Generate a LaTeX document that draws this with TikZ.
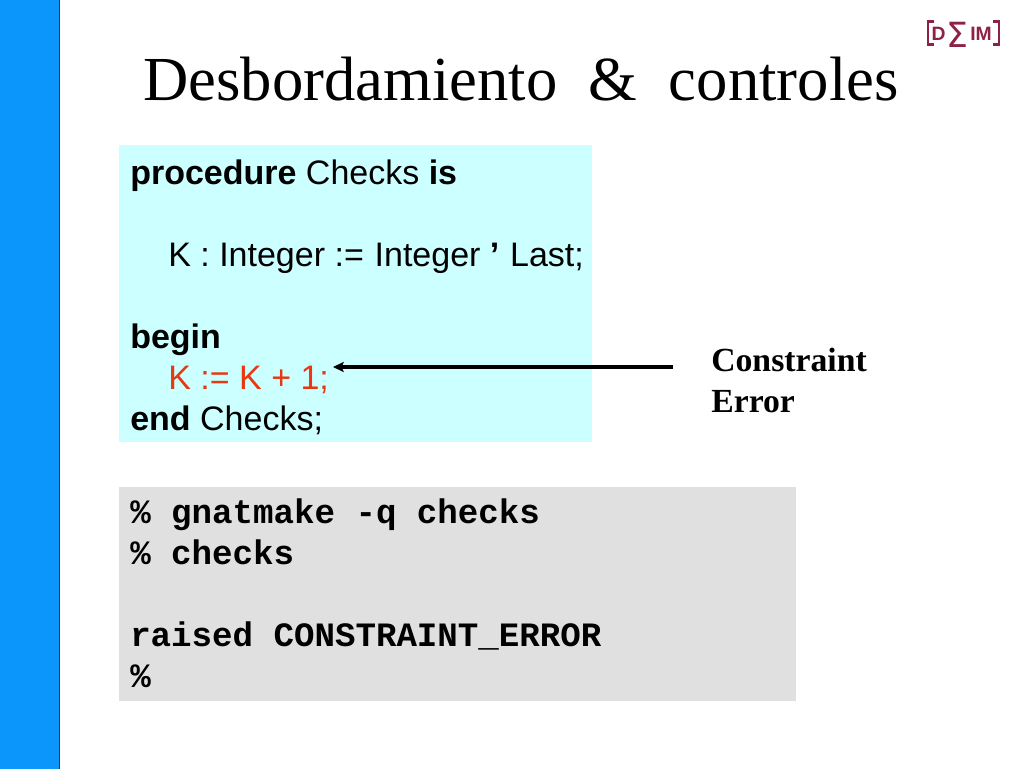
\documentclass[tikz,border=0pt]{standalone}
\usepackage{fontspec}
\usetikzlibrary{arrows.meta}
\setmainfont{Liberation Serif}
\setsansfont{Liberation Sans}
\setmonofont{Liberation Mono}
\newfontfamily\logosigma{DejaVu Sans}
\definecolor{sidebar}{HTML}{0A96FA}
\definecolor{sideedge}{HTML}{0B3A78}
\definecolor{codebg}{HTML}{CCFFFF}
\definecolor{shellbg}{HTML}{E0E0E0}
\definecolor{hot}{HTML}{E8380F}
\definecolor{logo}{HTML}{8E2246}
\tikzset{
  codeline/.style={anchor=base west,inner sep=0pt,font=\sffamily\fontsize{25.5}{25.5}\selectfont},
  shellline/.style={anchor=base west,inner sep=0pt,font=\ttfamily\bfseries\fontsize{25.6}{25.6}\selectfont},
  notetext/.style={anchor=base west,inner sep=0pt,font=\bfseries\fontsize{25.3}{25.3}\selectfont},
  logotext/.style={inner sep=0pt,text=logo,font=\sffamily\bfseries\fontsize{14.5}{14.5}\selectfont},
  bracket/.style={logo,line width=2pt},
}
\begin{document}
\begin{tikzpicture}[x=0.75pt,y=-0.75pt]
\useasboundingbox (0,0) rectangle (1024,768);
\fill[white] (0,0) rectangle (1024,768);
\fill[sidebar,draw=sideedge,line width=1pt] (-2,-2) rectangle (59.5,770);
\fill[codebg] (119,145) rectangle (592,442);
\fill[shellbg] (119,487) rectangle (796,701);
\node[anchor=base west,inner sep=0pt,font=\fontsize{47}{47}\selectfont] (title) at (143,100) {Desbordamiento\ \ \&\ \ controles};
\node[codeline] (c1) at (130,184) {\textbf{procedure} Checks \textbf{is}};
\node[codeline] (c2) at (168,266) {K : Integer :=\kern1pt{} Integer \textbf{’}\kern1pt{} Last;};
\node[codeline] (c3) at (130,348) {\textbf{begin}};
\node[codeline,text=hot] (c4) at (168,389) {K := K + 1;};
\node[codeline] (c5) at (130,430) {\textbf{end} Checks;};
\node[shellline] (s1) at (130,523) {\% gnatmake -q checks};
\node[shellline] (s2) at (130,564) {\% checks};
\node[shellline] (s3) at (130,646) {raised CONSTRAINT\_ERROR};
\node[shellline] (s4) at (130,687) {\%};
\node[notetext] (n1) at (711,371) {Constraint};
\node[notetext] (n2) at (711,412) {Error};
\coordinate (arrowstart) at (673,367);
\coordinate (arrowend) at (333,367);
\draw[-{Stealth[length=8pt,width=7.5pt,inset=1.5pt]},line width=2.4pt] (arrowstart) -- (arrowend);
% logo
\node[logotext] (ld) at (938.5,34) {D};
\node[logotext] (lm) at (981,34) {IM};
\node[inner sep=0pt,text=logo,font=\logosigma\fontsize{26}{26}\selectfont] (ls) at (957,34.5) {Σ};
\draw[bracket] (934,21.5) -- (928,21.5) -- (928,44.5) -- (934,44.5);
\draw[bracket] (993,21.5) -- (999,21.5) -- (999,44.5) -- (993,44.5);
\end{tikzpicture}
\end{document}
